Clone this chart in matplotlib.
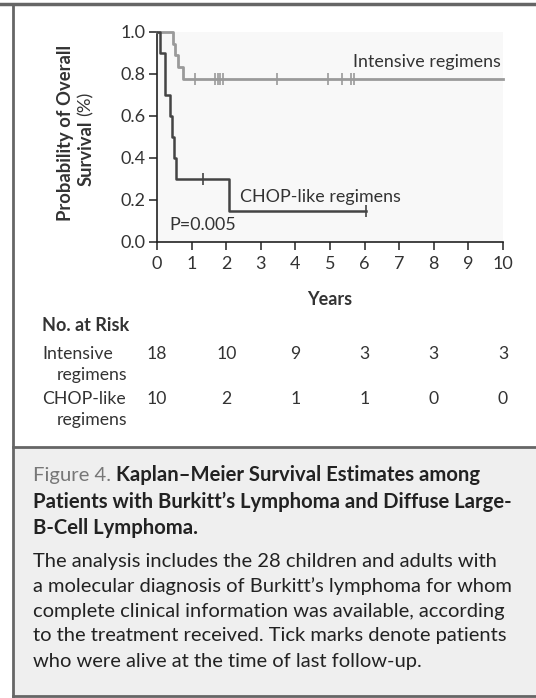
import matplotlib
matplotlib.use("Agg")
import matplotlib.pyplot as plt
from matplotlib.lines import Line2D
from matplotlib.patches import Rectangle
import matplotlib.transforms as mtransforms

plt.rcParams['font.family'] = ['Lato', 'DejaVu Sans']

# Kaplan-Meier steps
intensive_times = [0, 0.47, 0.53, 0.62, 0.74, 10]
intensive_surv = [1.0, 0.944, 0.889, 0.833, 0.778, 0.778]
intensive_censored = [1.10, 1.68, 1.75, 1.82, 1.90, 3.46, 4.95, 5.35, 5.60, 5.68]

chop_times = [0, 0.08, 0.23, 0.39, 0.43, 0.49, 0.55, 2.08, 6.04]
chop_surv = [1.0, 0.9, 0.7, 0.6, 0.5, 0.4, 0.3, 0.15, 0.15]
chop_censored = [1.33, 6.04]

risk_years = [0, 2, 4, 6, 8, 10]
risk_intensive = [18, 10, 9, 3, 3, 3]
risk_chop = [10, 2, 1, 1, 0, 0]

W, H = 536, 698
fig = plt.figure(figsize=(W / 100, H / 100), dpi=100)
fig.patch.set_facecolor('white')


def fx(px):
    return px / W


def fy(py):
    return 1 - py / H


# caption panel background and frame lines
fig.patches.append(Rectangle((fx(13), fy(696)), 1 - fx(13), fy(447) - fy(696),
                             transform=fig.transFigure, facecolor='#efefef',
                             edgecolor='none', zorder=0))
frame_col = '#666666'
fig.add_artist(Line2D([0, 1], [fy(4), fy(4)], color=frame_col, lw=2.5))
fig.add_artist(Line2D([fx(13), fx(13)], [fy(4), fy(696)], color=frame_col, lw=2.0))
fig.add_artist(Line2D([fx(13), 1], [fy(447), fy(447)], color=frame_col, lw=2.0))
fig.add_artist(Line2D([fx(13), 1], [fy(696), fy(696)], color=frame_col, lw=2.0))

# main axes
x0, x1 = 157, 503
y_top, y_bot = 32, 242
ax = fig.add_axes([fx(x0), fy(y_bot), fx(x1 - x0), fy(y_top) - fy(y_bot)])
ax.set_facecolor('#f8f8f8')
ax.set_xlim(0, 10)
ax.set_ylim(0, 1.0)
for s in ['top', 'right']:
    ax.spines[s].set_visible(False)
for s in ['left', 'bottom']:
    ax.spines[s].set_color('#222222')
    ax.spines[s].set_linewidth(1.2)
ax.set_xticks(range(0, 11))
ax.set_yticks([0, 0.2, 0.4, 0.6, 0.8, 1.0])
ax.set_yticklabels(['0.0', '0.2', '0.4', '0.6', '0.8', '1.0'])
ax.tick_params(direction='out', length=6, width=1.1, color='#222222',
               labelsize=13, labelcolor='#333333', pad=2)
ax.tick_params(axis='x', pad=4)

ax.step(intensive_times, intensive_surv, where='post', color='#9a9a9a', lw=2.0,
        clip_on=False, zorder=3)
ax.step(chop_times, chop_surv, where='post', color='#444444', lw=1.8,
        clip_on=False, zorder=4)

# censoring ticks
def surv_at(t, times, surv):
    val = surv[0]
    for tt, ss in zip(times, surv):
        if tt <= t:
            val = ss
    return val


ax.plot(intensive_censored,
        [surv_at(t, intensive_times, intensive_surv) for t in intensive_censored],
        ls='none', marker='|', ms=8, mew=1.2, color='#9a9a9a', zorder=3, clip_on=False)
ax.plot(chop_censored,
        [surv_at(t, chop_times, chop_surv) for t in chop_censored],
        ls='none', marker='|', ms=8, mew=1.2, color='#444444', zorder=4, clip_on=False)

lab_fs = 12.9
ax.text(9.95, 0.855, 'Intensive regimens', ha='right', va='center',
        fontsize=lab_fs, color='#333333')
ax.text(2.4, 0.215, 'CHOP-like regimens', ha='left', va='center',
        fontsize=lab_fs, color='#333333')
ax.text(0.37, 0.08, 'P=0.005', ha='left', va='center',
        fontsize=lab_fs, color='#333333')

ax.set_xlabel('Years', fontsize=13, fontweight='bold', color='#333333', labelpad=14)

# y label: bold lines with regular "(%)"
ylab_fs = 13.2
fig.text(fx(65), fy(133), 'Probability of Overall', rotation=90, ha='center',
         va='center', fontsize=ylab_fs, fontweight='bold', color='#333333')
surv_txt = fig.text(fx(86), fy(186), 'Survival', rotation=90, ha='center',
                    va='bottom', fontsize=ylab_fs, fontweight='bold', color='#333333')
fig.canvas.draw()
sb = surv_txt.get_window_extent()
fig.text(fx(86), (sb.y1 + 5) / H, '(%)', rotation=90, ha='center', va='bottom',
         fontsize=ylab_fs, color='#333333')

# number at risk table
txt_col = '#333333'
tab_fs = 12.7
fig.text(fx(42), fy(325), 'No. at Risk', ha='left', va='center', fontsize=13,
         fontweight='bold', color=txt_col)
fig.text(fx(42), fy(354), 'Intensive', ha='left', va='center', fontsize=tab_fs, color=txt_col)
fig.text(fx(57), fy(375), 'regimens', ha='left', va='center', fontsize=tab_fs, color=txt_col)
fig.text(fx(42), fy(399), 'CHOP-like', ha='left', va='center', fontsize=tab_fs, color=txt_col)
fig.text(fx(57), fy(420), 'regimens', ha='left', va='center', fontsize=tab_fs, color=txt_col)
blend = mtransforms.blended_transform_factory(ax.transData, fig.transFigure)
for yr, n1, n2 in zip(risk_years, risk_intensive, risk_chop):
    ax.text(yr, fy(354), str(n1), transform=blend, ha='center', va='center',
            fontsize=tab_fs, color=txt_col)
    ax.text(yr, fy(399), str(n2), transform=blend, ha='center', va='center',
            fontsize=tab_fs, color=txt_col)

# caption
cap_col = '#222222'
cap_fs = 14.6
t = fig.text(fx(33), fy(475), 'Figure 4. ', ha='left', va='center', fontsize=cap_fs,
             color='#777777')
fig.canvas.draw()
bb = t.get_window_extent()
fig.text(bb.x1 / W, fy(475), 'Kaplan\u2013Meier Survival Estimates among', ha='left',
         va='center', fontsize=cap_fs, fontweight='bold', color=cap_col)
fig.text(fx(33), fy(502), 'Patients with Burkitt\u2019s Lymphoma and Diffuse Large-',
         ha='left', va='center', fontsize=cap_fs, fontweight='bold', color=cap_col)
fig.text(fx(33), fy(528), 'B-Cell Lymphoma.', ha='left', va='center', fontsize=cap_fs,
         fontweight='bold', color=cap_col)

body = [
    'The analysis includes the 28 children and adults with',
    'a molecular diagnosis of Burkitt\u2019s lymphoma for whom',
    'complete clinical information was available, according',
    'to the treatment received. Tick marks denote patients',
    'who were alive at the time of last follow-up.',
]
for i, line in enumerate(body):
    fig.text(fx(33), fy(561 + i * 25), line, ha='left', va='center', fontsize=14.5,
             color=cap_col)

fig.savefig('out.png', dpi=100)
